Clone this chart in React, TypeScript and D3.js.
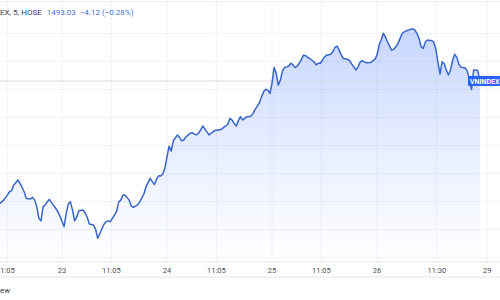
import React from "react";
import * as d3 from "d3";

const W = 500;
const H = 300;

const bars = [
  -30, -28, -26, -25, -24, -23, -22, -21, -20, -18, -17, -15, -14, -13, -12, -11, -10, -9, -8, -7, -6, -5, -3, -2, -1,
  1, 2, 3, 4, 5, 6, 7, 8, 10, 11, 12, 13, 15, 16, 17, 18, 20, 21, 22, 23, 24, 26, 27, 28, 29, 30, 32, 33, 34, 36, 37, 39, 40,
  42, 43, 44, 45, 46, 47, 48, 49, 50, 51, 52, 53, 55, 56, 57, 58, 59, 61, 62, 63, 64, 65, 66, 67, 69, 70, 71, 72, 73, 74,
  76, 77, 78, 79, 80, 81, 82, 83, 84, 85, 86, 87, 88, 90, 91, 92, 93, 94, 95, 96, 97, 98, 99, 100, 101, 102, 103, 104, 105,
  106, 107, 108, 109, 110, 111, 112, 113, 114, 115, 116, 117, 118, 120, 121, 122, 123, 124, 125, 126, 128, 129, 130, 131,
  132, 133, 134, 136, 137, 138, 140, 141, 142, 143, 144, 145, 147, 148, 149, 150, 151, 152, 153, 154, 155, 156, 157, 158,
  159, 160, 161, 162, 163, 164, 166, 167, 168, 169, 170, 171, 172, 173, 174, 175, 176, 177, 178, 179, 180, 181, 182, 183,
  184, 185, 186, 187, 188, 189, 190, 191, 192, 193, 194, 195, 196, 197, 198, 199,
];

const closes = [
  1449.1, 1450.3, 1452.3, 1453.5, 1453.9, 1455.9, 1456.7, 1457.7, 1456.5, 1453.5, 1451.1, 1450.9, 1451.5, 1450.5, 1448.1,
  1444.0, 1443.1, 1448.1, 1448.8, 1449.9, 1450.8, 1449.6, 1447.6, 1446.4, 1444.8,
  1441.0, 1445.8, 1449.1, 1449.9, 1447.0, 1443.1, 1444.4, 1446.7, 1447.0, 1446.0, 1444.4, 1442.0, 1441.6, 1440.1, 1436.9,
  1438.6, 1441.9, 1442.8, 1443.1, 1442.8, 1444.0, 1446.4, 1449.9, 1450.5, 1452.3, 1452.3, 1450.5, 1448.4, 1447.9, 1448.8,
  1449.9, 1452.7, 1455.3,
  1458.3, 1457.1, 1456.1, 1457.9, 1459.2, 1459.1, 1459.8, 1461.9, 1466.0, 1469.8, 1468.0, 1471.7, 1473.8, 1472.9, 1471.7,
  1472.0, 1473.1, 1474.4, 1474.6, 1474.1, 1473.8, 1474.4, 1475.5, 1477.0, 1474.9, 1473.8, 1474.4, 1474.9, 1475.5, 1475.5,
  1475.8, 1476.5, 1477.0, 1477.7, 1479.7, 1479.1, 1477.9, 1477.0, 1478.9, 1480.3, 1479.1, 1479.7, 1480.3, 1480.5, 1481.5,
  1482.9, 1484.1, 1485.3, 1487.4, 1489.2, 1490.1, 1489.8, 1488.6, 1492.2, 1497.9, 1495.8, 1491.6, 1493.4, 1496.7,
  1497.9, 1498.1, 1498.4, 1499.4, 1498.8, 1497.9, 1498.4, 1499.4, 1500.8, 1502.3, 1502.1, 1501.5, 1501.1, 1499.9, 1498.8,
  1499.4, 1499.4, 1500.5, 1501.7, 1502.3, 1502.6, 1503.5, 1505.1, 1505.5,
  1504.1, 1502.3, 1501.1, 1500.8, 1500.3, 1499.1, 1497.0, 1498.1, 1499.9, 1500.3, 1499.9, 1499.6, 1499.7, 1500.3, 1500.8,
  1502.3, 1505.9, 1507.7, 1510.1, 1508.9, 1507.1, 1505.5, 1504.1, 1504.4,
  1505.3, 1506.5, 1508.3, 1510.1, 1510.6, 1511.0, 1511.5, 1511.7, 1511.3, 1510.1, 1508.3, 1505.3, 1504.7, 1507.0, 1507.7,
  1507.5, 1507.5, 1507.0, 1504.5, 1499.8, 1495.5, 1499.9, 1499.3, 1497.0,
  1495.2, 1497.0, 1500.5, 1502.6, 1501.5, 1499.1, 1498.0, 1497.9, 1497.7, 1496.6, 1493.8, 1490.0, 1497.0, 1497.0, 1496.8,
  1493.03,
];

const tickBars = [-26, 0, 23.5, 50, 73.5, 100, 123.5, 150, 178.5, 202.5];
const tickLabels = ["1:05", "23", "11:05", "24", "11:05", "25", "11:05", "26", "11:30", "29"];
const gridPrices = [1430, 1440, 1450, 1460, 1470, 1480, 1490, 1500, 1510];

const titleName = "EX, 5, HOSE";
const lastPrice = 1493.03;
const change = "\u22124.12";
const changePct = "(\u22120.28%)";
const seriesLabel = "VNINDEX";
const footer = "ew";

export default function App() {
  const axisY = 262;
  const x = d3.scaleLinear().domain([0, 200]).range([62, 482]);
  const y = d3.scaleLinear().domain([1428.4, 1522]).range([axisY, 0]);

  const pts: [number, number][] = bars.map((b, i) => [b, closes[i]]);
  const line = d3
    .line<[number, number]>()
    .x((d) => x(d[0]))
    .y((d) => y(d[1]));
  const area = d3
    .area<[number, number]>()
    .x((d) => x(d[0]))
    .y0(axisY)
    .y1((d) => y(d[1]));

  const lastY = y(lastPrice);
  const font = "Roboto, 'Noto Sans', sans-serif";

  return (
    <svg
      width={W}
      height={H}
      style={{ position: "fixed", left: 0, top: 0, background: "#fff" }}
      fontFamily={font}
    >
      <defs>
        <linearGradient id="fillGrad" gradientUnits="userSpaceOnUse" x1="0" y1="28" x2="0" y2={axisY}>
          <stop offset="0" stopColor="#2962ff" stopOpacity={0.26} />
          <stop offset="0.55" stopColor="#2962ff" stopOpacity={0.1} />
          <stop offset="1" stopColor="#2962ff" stopOpacity={0.0} />
        </linearGradient>
      </defs>
      <rect x={0} y={0} width={W} height={H} fill="#fff" />
      <line x1={0} x2={W} y1={1.5} y2={1.5} stroke="#eceff4" />
      {gridPrices.map((p) => (
        <line key={p} x1={0} x2={W} y1={y(p)} y2={y(p)} stroke="#f0f3f8" strokeWidth={1} />
      ))}
      {tickBars.map((b, i) => (
        <line key={i} x1={x(b)} x2={x(b)} y1={0} y2={axisY} stroke="#f0f3f8" strokeWidth={1} />
      ))}
      <path d={area(pts) || ""} fill="url(#fillGrad)" />
      <line x1={0} x2={W} y1={lastY} y2={lastY} stroke="#d9dce3" strokeWidth={1} />
      <path d={line(pts) || ""} fill="none" stroke="#3a65c8" strokeWidth={1.5} strokeLinejoin="round" />
      <line x1={0} x2={W} y1={axisY} y2={axisY} stroke="#e3e6ec" />
      <line x1={0} x2={W} y1={277} y2={277} stroke="#e3e6ec" />
      {tickBars.map((b, i) => (
        <text
          key={i}
          x={x(b)}
          y={272.5}
          fontSize={7.5}
          fill="#4a4e57"
          textAnchor="middle"
        >
          {tickLabels[i]}
        </text>
      ))}
      <rect x={468} y={lastY - 5} width={34} height={10} fill="#2962ff" rx={1} />
      <text x={470} y={lastY + 3} fontSize={7} fontWeight="bold" fill="#fff">
        {seriesLabel}
      </text>
      <text x={0} y={15} fontSize={8} fill="#3a3e47">
        {titleName}
        <tspan dx={5} fill="#3f6fd6">{lastPrice.toFixed(2)}</tspan>
        <tspan dx={4} fill="#3f6fd6">{change}</tspan>
        <tspan dx={2} fill="#3f6fd6">{changePct}</tspan>
      </text>
      <text x={0} y={293} fontSize={8} fill="#3a3e47">
        {footer}
      </text>
    </svg>
  );
}
